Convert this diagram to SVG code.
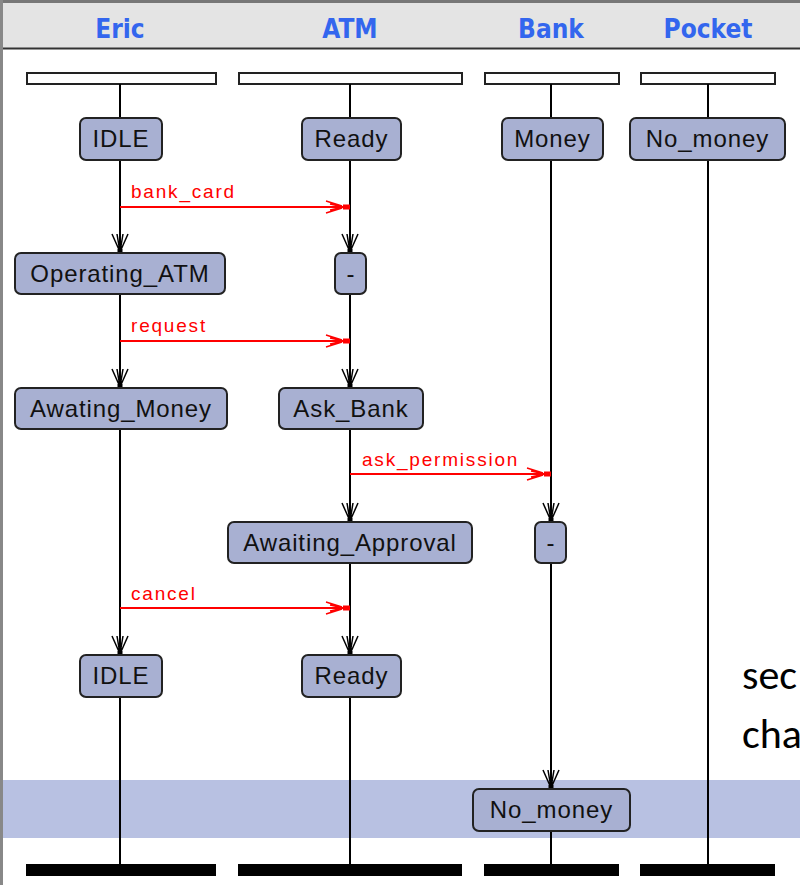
<svg xmlns="http://www.w3.org/2000/svg" width="800" height="885" viewBox="0 0 800 885">
<style>
.hdr{font-family:"DejaVu Sans Condensed","DejaVu Sans","Liberation Sans",sans-serif;font-weight:bold;font-size:26px;fill:#3366ee;text-anchor:middle}
.node rect{fill:#a8b0d2;stroke:#222;stroke-width:2}
.node text{font-family:"Liberation Sans",Arial,sans-serif;font-size:24px;fill:#111;text-anchor:middle;letter-spacing:0.9px}
.life{stroke:#000;stroke-width:2;fill:none}
.msg{stroke:#ff0000;stroke-width:2;fill:none}
.lbl{font-family:"Liberation Sans",Arial,sans-serif;font-size:19px;fill:#ff0000;letter-spacing:1.8px}
.bar{fill:#fff;stroke:#222;stroke-width:2}
.endbar{fill:#000}
.big{font-family:"Carlito","Liberation Sans",sans-serif;font-size:42px;fill:#000}
</style>
<defs>
<marker id="ahb" viewBox="-20 -10 22 20" refX="0" refY="0" markerWidth="22" markerHeight="20" markerUnits="userSpaceOnUse" orient="auto">
<path d="M-19,-8 L-1,0 L-19,8 M-19,-3 L-1,0 L-19,3" fill="none" stroke="#000" stroke-width="1.5"/>
<rect x="-4" y="-2.5" width="5" height="5" fill="#000"/>
</marker>
<marker id="ahr" viewBox="-26 -10 28 20" refX="0" refY="0" markerWidth="28" markerHeight="20" markerUnits="userSpaceOnUse" orient="auto">
<path d="M-24,-6 L-8,-1 M-24,6 L-8,1 M-20,-3 L-6,0 L-20,3" fill="none" stroke="#ff0000" stroke-width="1.5"/>
<rect x="-7" y="-2.5" width="7" height="5" fill="#ff0000"/>
</marker>
</defs>
<rect x="0" y="0" width="800" height="885" fill="#fff"/>
<g id="background">
<rect x="0" y="0" width="800" height="48" fill="#e4e4e4"/>
<line x1="0" y1="1.5" x2="800" y2="1.5" stroke="#777" stroke-width="3"/>
<line x1="0" y1="48.5" x2="800" y2="48.5" stroke="#333" stroke-width="2"/>
<rect x="3" y="780" width="797" height="58" fill="#b8c1e2"/>
<line x1="1.5" y1="0" x2="1.5" y2="885" stroke="#888" stroke-width="3"/>
</g>
<g id="headers">
<text class="hdr" x="120" y="38">Eric</text>
<text class="hdr" x="350" y="38">ATM</text>
<text class="hdr" x="551" y="38">Bank</text>
<text class="hdr" x="708" y="38">Pocket</text>
</g>
<g id="bars">
<rect class="bar" x="27" y="73" width="189" height="11"/>
<rect class="bar" x="239" y="73" width="223" height="11"/>
<rect class="bar" x="485" y="73" width="134" height="11"/>
<rect class="bar" x="641" y="73" width="134" height="11"/>
<rect class="endbar" x="26" y="864" width="190" height="12"/>
<rect class="endbar" x="238" y="864" width="224" height="12"/>
<rect class="endbar" x="484" y="864" width="135" height="12"/>
<rect class="endbar" x="640" y="864" width="135" height="12"/>
</g>
<g id="connectors">
<line class="life" x1="120" y1="84" x2="120" y2="118"/>
<line class="life" x1="120" y1="160" x2="120" y2="253" marker-end="url(#ahb)"/>
<line class="life" x1="120" y1="294" x2="120" y2="388" marker-end="url(#ahb)"/>
<line class="life" x1="120" y1="429" x2="120" y2="655" marker-end="url(#ahb)"/>
<line class="life" x1="120" y1="697" x2="120" y2="864"/>
<line class="life" x1="350" y1="84" x2="350" y2="118"/>
<line class="life" x1="350" y1="160" x2="350" y2="253" marker-end="url(#ahb)"/>
<line class="life" x1="350" y1="294" x2="350" y2="388" marker-end="url(#ahb)"/>
<line class="life" x1="350" y1="429" x2="350" y2="522" marker-end="url(#ahb)"/>
<line class="life" x1="350" y1="563" x2="350" y2="655" marker-end="url(#ahb)"/>
<line class="life" x1="350" y1="697" x2="350" y2="864"/>
<line class="life" x1="551" y1="84" x2="551" y2="118"/>
<line class="life" x1="551" y1="160" x2="551" y2="522" marker-end="url(#ahb)"/>
<line class="life" x1="551" y1="563" x2="551" y2="789" marker-end="url(#ahb)"/>
<line class="life" x1="551" y1="831" x2="551" y2="864"/>
<line class="life" x1="708" y1="84" x2="708" y2="118"/>
<line class="life" x1="708" y1="160" x2="708" y2="864"/>
<line class="msg" x1="120" y1="207" x2="350" y2="207" marker-end="url(#ahr)"/>
<text class="lbl" x="131" y="198">bank_card</text>
<line class="msg" x1="120" y1="341" x2="350" y2="341" marker-end="url(#ahr)"/>
<text class="lbl" x="131" y="332">request</text>
<line class="msg" x1="350" y1="474" x2="551" y2="474" marker-end="url(#ahr)"/>
<text class="lbl" x="362" y="466">ask_permission</text>
<line class="msg" x1="120" y1="608" x2="350" y2="608" marker-end="url(#ahr)"/>
<text class="lbl" x="131" y="600">cancel</text>
</g>
<g id="eric_idle" class="node"><rect x="80" y="118" width="82" height="42" rx="6"/><text x="121" y="147">IDLE</text></g>
<g id="atm_ready" class="node"><rect x="302" y="118" width="99" height="42" rx="6"/><text x="351.5" y="147">Ready</text></g>
<g id="bank_money" class="node"><rect x="502" y="118" width="101" height="42" rx="6"/><text x="552.5" y="147">Money</text></g>
<g id="pocket_nomoney" class="node"><rect x="630" y="118" width="155" height="42" rx="6"/><text x="707.5" y="147">No_money</text></g>
<g id="eric_operating" class="node"><rect x="15" y="253" width="210" height="41" rx="6"/><text x="120" y="282">Operating_ATM</text></g>
<g id="atm_dash1" class="node"><rect x="335" y="253" width="31" height="41" rx="6"/><text x="351" y="282">-</text></g>
<g id="eric_awaiting" class="node"><rect x="15" y="388" width="212" height="41" rx="6"/><text x="121" y="417">Awating_Money</text></g>
<g id="atm_askbank" class="node"><rect x="279" y="388" width="144" height="41" rx="6"/><text x="351" y="417">Ask_Bank</text></g>
<g id="atm_approval" class="node"><rect x="228" y="522" width="244" height="41" rx="6"/><text x="350" y="551">Awaiting_Approval</text></g>
<g id="bank_dash" class="node"><rect x="535" y="522" width="31" height="41" rx="6"/><text x="551" y="551">-</text></g>
<g id="eric_idle2" class="node"><rect x="80" y="655" width="82" height="42" rx="6"/><text x="121" y="684">IDLE</text></g>
<g id="atm_ready2" class="node"><rect x="302" y="655" width="99" height="42" rx="6"/><text x="351.5" y="684">Ready</text></g>
<g id="bank_nomoney" class="node"><rect x="473" y="789" width="157" height="42" rx="6"/><text x="551.5" y="818">No_money</text></g>
<g id="side_text">
<text class="big" x="742" y="689">sec</text>
<text class="big" x="742" y="748">cha</text>
</g>
</svg>
